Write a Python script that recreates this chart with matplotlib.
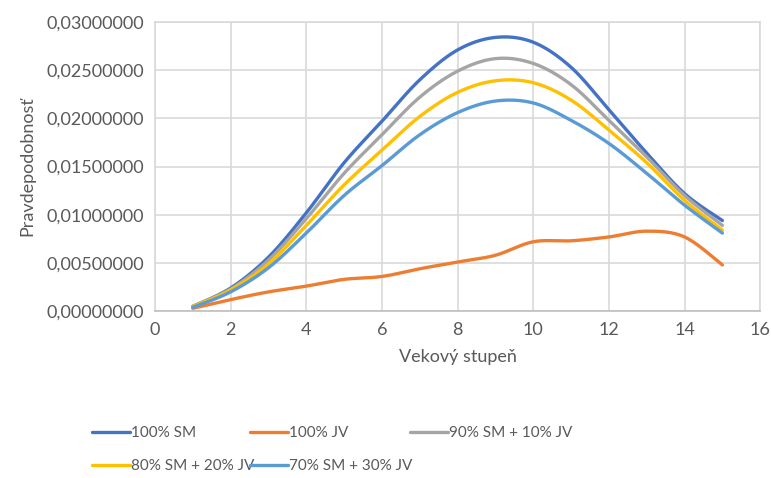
import numpy as np
import matplotlib
matplotlib.use("Agg")
import matplotlib.pyplot as plt
from matplotlib.ticker import FuncFormatter, MultipleLocator

plt.rcParams["font.family"] = ["Lato", "DejaVu Sans"]

stupen = [1, 2, 3, 4, 5, 6, 7, 8, 9, 10, 11, 12, 13, 14, 15]
sm100 = [0.0005, 0.0024, 0.0056, 0.0102, 0.0154, 0.0197, 0.0240, 0.0271, 0.0284, 0.0279,
         0.0253, 0.0209, 0.0164, 0.0122, 0.0094]
jv100 = [0.0003, 0.0012, 0.0020, 0.0026, 0.0033, 0.0036, 0.0044, 0.0051, 0.0058, 0.0072,
         0.0073, 0.0077, 0.0083, 0.0077, 0.0048]
sm90 = [0.0005, 0.0023, 0.0053, 0.0096, 0.0143, 0.0183, 0.0222, 0.0249, 0.0262, 0.0257,
        0.0235, 0.0198, 0.0160, 0.0120, 0.0089]
sm80 = [0.0005, 0.0022, 0.0049, 0.0089, 0.0131, 0.0167, 0.0202, 0.0227, 0.0239, 0.0237,
        0.0219, 0.0188, 0.0154, 0.0115, 0.0084]
sm70 = [0.0004, 0.0020, 0.0045, 0.0081, 0.0120, 0.0151, 0.0183, 0.0206, 0.0218, 0.0216,
        0.0198, 0.0174, 0.0143, 0.0110, 0.0081]

series = [
    ("100% SM", sm100, "#4472C4"),
    ("100% JV", jv100, "#ED7D31"),
    ("90% SM + 10% JV", sm90, "#A5A5A5"),
    ("80% SM + 20% JV", sm80, "#FFC000"),
    ("70% SM + 30% JV", sm70, "#5B9BD5"),
]


def smooth(x, y, n=30):
    # Excel-like smoothed line (cardinal bezier)
    x = np.asarray(x, float)
    y = np.asarray(y, float)
    px = np.concatenate([[x[0]], x, [x[-1]]])
    py = np.concatenate([[y[0]], y, [y[-1]]])
    xs, ys = [], []
    t = np.linspace(0, 1, n)
    for i in range(1, len(px) - 2):
        p0 = np.array([px[i], py[i]])
        p3 = np.array([px[i + 1], py[i + 1]])
        p1 = p0 + (p3 - np.array([px[i - 1], py[i - 1]])) / 6
        p2 = p3 - (np.array([px[i + 2], py[i + 2]]) - p0) / 6
        b = ((1 - t) ** 3)[:, None] * p0 + (3 * (1 - t) ** 2 * t)[:, None] * p1 \
            + (3 * (1 - t) * t ** 2)[:, None] * p2 + (t ** 3)[:, None] * p3
        xs.append(b[:, 0])
        ys.append(b[:, 1])
    return np.concatenate(xs), np.concatenate(ys)


fig = plt.figure(figsize=(7.71, 4.78), dpi=100)
ax = fig.add_axes([0.201, 0.349, 0.785, 0.605])

lines = []
for name, vals, col in series:
    sx, sy = smooth(stupen, vals)
    ln, = ax.plot(sx, sy, color=col, lw=2.4, label=name, solid_capstyle="round")
    lines.append(ln)

ax.set_xlim(0, 16)
ax.set_ylim(0, 0.03)
ax.xaxis.set_major_locator(MultipleLocator(2))
ax.yaxis.set_major_locator(MultipleLocator(0.005))
ax.yaxis.set_major_formatter(FuncFormatter(lambda v, p: f"{v:.8f}".replace(".", ",")))
ax.grid(True, color="#d9d9d9", lw=1.2)
ax.set_axisbelow(True)
for s in ["top", "right", "left"]:
    ax.spines[s].set_color("#d9d9d9")
    ax.spines[s].set_linewidth(1.2)
ax.spines["bottom"].set_color("#bfbfbf")
ax.spines["bottom"].set_linewidth(1.2)
ax.tick_params(length=0, labelsize=13, colors="#595959", pad=8)

ax.set_xlabel("Vekový stupeň", fontsize=13, color="#595959", labelpad=8)
ax.set_ylabel("Pravdepodobnosť", fontsize=13, color="#595959", labelpad=8)

# legend laid out like Excel: three per row, two rows
slots = [(92, 433), (250, 433), (410, 433), (92, 466), (250, 466)]
for ln, (px, py) in zip(lines, slots):
    leg = fig.legend(handles=[ln], loc="center left",
                     bbox_to_anchor=(px / 771, 1 - py / 478), frameon=False,
                     fontsize=11, handlelength=2.5, handletextpad=0.05,
                     borderpad=0, borderaxespad=0)
    leg.get_texts()[0].set_color("#595959")

fig.savefig("out.png", dpi=100)
